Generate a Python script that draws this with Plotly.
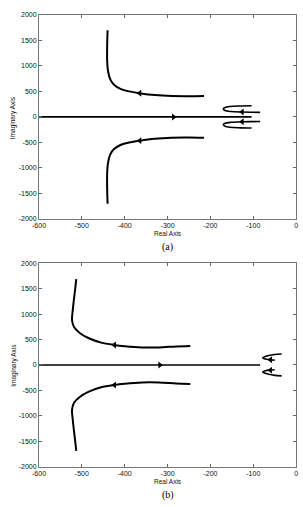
import plotly.graph_objects as go

# ---------------- data ----------------
# (a) complex branch, upper half (from pole toward asymptote)
a_branch_x = [-215, -250, -290, -330, -365, -390, -410, -425, -434, -439, -441, -441, -440]
a_branch_y = [410, 405, 408, 428, 465, 500, 550, 630, 740, 900, 1100, 1400, 1700]
# (a) real-axis segment
a_real_x = [-600, -104]
a_real_y = [0, 0]
# (a) small hairpin loop near the origin, upper half
a_loop_x = [-104, -130, -155, -166, -170, -166, -152, -128, -105, -84]
a_loop_y = [218, 214, 204, 184, 155, 125, 106, 96, 92, 90]
# (a) arrows: x, y, direction
a_arrow_x = [-365, -365, -286, -126, -126]
a_arrow_y = [465, -465, 0, 95, -95]
a_arrow_sym = ["triangle-left", "triangle-left", "triangle-right", "triangle-left", "triangle-left"]

# (b) complex branch, upper half
b_branch_x = [-247, -280, -320, -360, -400, -424, -455, -485, -505, -518, -523, -521, -517, -513]
b_branch_y = [374, 365, 345, 345, 370, 394, 440, 530, 630, 740, 880, 1100, 1400, 1690]
# (b) real-axis segment
b_real_x = [-600, -84]
b_real_y = [0, 0]
# (b) small hairpin loop, upper half
b_loop_x = [-34, -50, -64, -74, -78, -72, -62, -50]
b_loop_y = [215, 205, 185, 160, 138, 115, 102, 95]
b_arrow_x = [-424, -424, -318, -60, -60]
b_arrow_y = [394, -394, 0, 102, -102]
b_arrow_sym = ["triangle-left", "triangle-left", "triangle-right", "triangle-left", "triangle-left"]

x_ticks = [-600, -500, -400, -300, -200, -100, 0]
y_ticks = [-2000, -1500, -1000, -500, 0, 500, 1000, 1500, 2000]

# ---------------- figure ----------------
fig = go.Figure()
LW = 2.0

def add_panel(bx, by, rx, ry, lx, ly, ax, ay, asym, xa, ya):
    line = dict(color="black", width=LW, shape="spline", smoothing=0.8)
    fig.add_trace(go.Scatter(x=bx, y=by, mode="lines", line=line, xaxis=xa, yaxis=ya))
    fig.add_trace(go.Scatter(x=bx, y=[-v for v in by], mode="lines", line=line, xaxis=xa, yaxis=ya))
    fig.add_trace(go.Scatter(x=rx, y=ry, mode="lines", line=dict(color="black", width=1.6), xaxis=xa, yaxis=ya))
    lline = dict(color="black", width=1.6, shape="spline", smoothing=0.8)
    fig.add_trace(go.Scatter(x=lx, y=ly, mode="lines", line=lline, xaxis=xa, yaxis=ya))
    fig.add_trace(go.Scatter(x=lx, y=[-v for v in ly], mode="lines", line=lline, xaxis=xa, yaxis=ya))
    fig.add_trace(go.Scatter(x=ax, y=ay, mode="markers",
                             marker=dict(symbol=asym, size=6, color="black"),
                             xaxis=xa, yaxis=ya))

add_panel(a_branch_x, a_branch_y, a_real_x, a_real_y, a_loop_x, a_loop_y,
          a_arrow_x, a_arrow_y, a_arrow_sym, "x", "y")
add_panel(b_branch_x, b_branch_y, b_real_x, b_real_y, b_loop_x, b_loop_y,
          b_arrow_x, b_arrow_y, b_arrow_sym, "x2", "y2")

W, H = 303, 507
tickfont = dict(family="Liberation Sans, Arial", size=7, color="#111")
common_x = dict(range=[-600, 0], tickvals=x_ticks, ticktext=[str(v) for v in x_ticks],
                ticks="inside", ticklen=3, tickcolor="#666", showline=True, linecolor="#777",
                linewidth=1, mirror="ticks", showgrid=False, zeroline=False, tickfont=tickfont)
common_y = dict(range=[-2000, 2000], tickvals=y_ticks, ticktext=[str(v) for v in y_ticks],
                ticks="inside", ticklen=3, tickcolor="#666", showline=True, linecolor="#777",
                linewidth=1, mirror="ticks", showgrid=False, zeroline=False, tickfont=tickfont)

xdom = [33 / W, 298 / W]
fig.update_layout(
    width=W, height=H, margin=dict(l=0, r=0, t=0, b=0),
    paper_bgcolor="white", plot_bgcolor="white", showlegend=False,
    xaxis=dict(domain=xdom, anchor="y", **common_x),
    yaxis=dict(domain=[1 - 218 / H, 1 - 11 / H], anchor="x", **common_y),
    xaxis2=dict(domain=xdom, anchor="y2", **common_x),
    yaxis2=dict(domain=[1 - 469 / H, 1 - 263 / H], anchor="x2", **common_y),
)

lab = dict(family="Liberation Sans, Arial", size=6.5, color="#111")
cap = dict(family="Liberation Serif, Times New Roman", size=10, color="black")
xc = (xdom[0] + xdom[1]) / 2
fig.add_annotation(text="Real Axis", x=xc, y=1 - 233 / H, xref="paper", yref="paper",
                   showarrow=False, font=lab, yanchor="middle")
fig.add_annotation(text="Real Axis", x=xc, y=1 - 484 / H, xref="paper", yref="paper",
                   showarrow=False, font=lab, yanchor="middle")
fig.add_annotation(text="Imaginary Axis", x=7 / W, y=1 - 115 / H, xref="paper", yref="paper",
                   showarrow=False, font=lab, textangle=-90, xanchor="center", yanchor="middle")
fig.add_annotation(text="Imaginary Axis", x=7 / W, y=1 - 366 / H, xref="paper", yref="paper",
                   showarrow=False, font=lab, textangle=-90, xanchor="center", yanchor="middle")
fig.add_annotation(text="(a)", x=xc, y=1 - 246 / H, xref="paper", yref="paper",
                   showarrow=False, font=cap, yanchor="middle")
fig.add_annotation(text="(b)", x=xc, y=1 - 498 / H, xref="paper", yref="paper",
                   showarrow=False, font=cap, yanchor="middle")

fig.write_html("out.html")
